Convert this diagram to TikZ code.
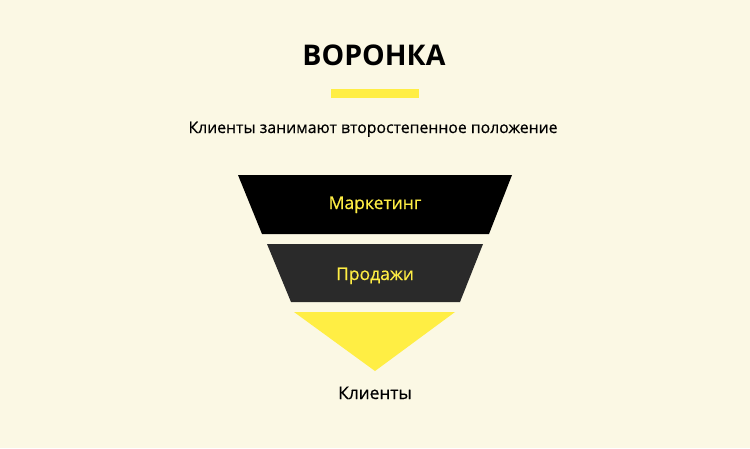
\documentclass[tikz,border=0pt]{standalone}
\usepackage{fontspec}
\setmainfont{Open Sans}
\newfontfamily\medfont[FakeBold=0.5]{Open Sans}
\definecolor{bgc}{HTML}{FBF8E4}
\definecolor{ylw}{HTML}{FFEE44}
\definecolor{dgr}{HTML}{2A2A2A}
\begin{document}
\begin{tikzpicture}[x=1pt,y=-1pt,
  lbl/.style={inner sep=0pt,anchor=base},
  ytext/.style={lbl,text=ylw,font=\medfont\fontsize{17.5}{20}\selectfont}]
\fill[bgc] (0,0) rectangle (750,448);
\useasboundingbox (0,0) rectangle (750,448);
\node[lbl,font=\fontsize{28.5}{32}\selectfont\bfseries] (title) at (374,65) {ВОРОНКА};
\fill[ylw] (331,89) rectangle (419,98);
\node[lbl,font=\medfont\fontsize{15.8}{19}\selectfont] (sub) at (373,133) {Клиенты занимают второстепенное положение};
\fill[black] (238,175) -- (512,175) -- (489,234) -- (262,234) -- cycle;
\fill[dgr] (267,244) -- (483,244) -- (460,302) -- (291,302) -- cycle;
\fill[ylw] (294,312) -- (455,312) -- (375,371) -- cycle;
\node[ytext] (m) at (375,209) {Маркетинг};
\node[ytext] (p) at (375,280) {Продажи};
\node[lbl,font=\medfont\fontsize{17.3}{20}\selectfont] (k) at (375,399) {Клиенты};
\end{tikzpicture}
\end{document}
